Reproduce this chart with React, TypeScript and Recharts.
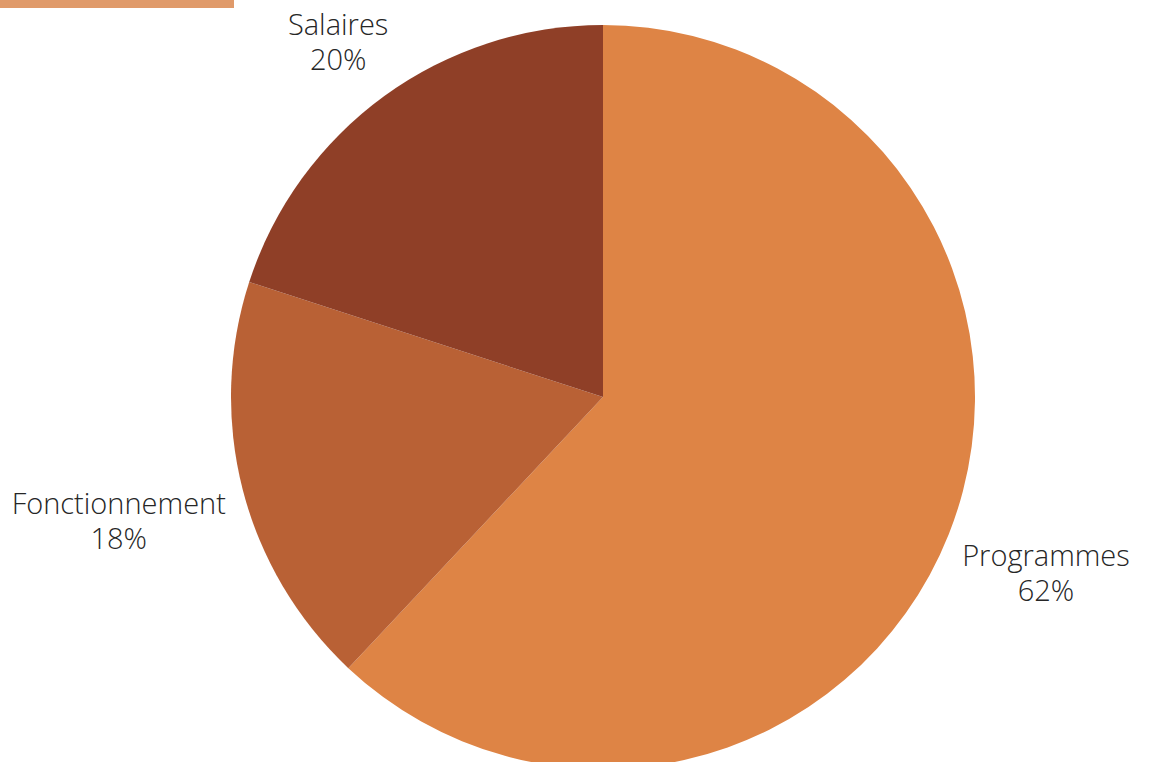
import React from 'react';
import { PieChart, Pie, Cell } from 'recharts';

// postes budgétaires (répartition en %)
const categories = ['Programmes', 'Fonctionnement', 'Salaires'];
const shares = [62, 18, 20];
const colors = ['#DE8445', '#B96135', '#8F3F27'];

const data = categories.map((name, i) => ({ name, value: shares[i] }));

const RAD = Math.PI / 180;

const renderLabel = (props: any) => {
    const { cx, cy, midAngle, outerRadius, name, percent } = props;
    const cos = Math.cos(-midAngle * RAD);
    const sin = Math.sin(-midAngle * RAD);
    const w = String(name).length * 16;
    const r = outerRadius + 18;
    const x = cx + r * cos + (cos * w) / 2 + (cos > 0 ? 6 : 2);
    const y = cy + r * sin + sin * 45 + (sin > 0 ? 16 : -3);
    return (
        <text
            x={x}
            y={y}
            textAnchor="middle"
            fill="#262626"
            style={{ fontFamily: '"Open Sans", sans-serif', fontWeight: 300, fontSize: 29 }}
        >
            <tspan x={x} y={y - 7.5}>{name}</tspan>
            <tspan x={x} y={y + 28}>{`${Math.round(percent * 100)}%`}</tspan>
        </text>
    );
};

const App: React.FC = () => {
    return (
        <div style={{ position: 'fixed', top: 0, left: 0, width: 1149, height: 762, background: '#fff', overflow: 'hidden' }}>
            <div style={{ position: 'absolute', top: 0, left: 0, width: 234, height: 8, background: '#E09A6A' }} />
            <PieChart width={1149} height={762} margin={{ top: 0, right: 0, bottom: 0, left: 0 }}>
                <Pie
                    data={data}
                    dataKey="value"
                    nameKey="name"
                    cx={603}
                    cy={397}
                    outerRadius={372}
                    startAngle={90}
                    endAngle={-270}
                    stroke="none"
                    labelLine={false}
                    label={renderLabel}
                    isAnimationActive={false}
                >
                    {data.map((entry, index) => (
                        <Cell key={`cell-${index}`} fill={colors[index]} />
                    ))}
                </Pie>
            </PieChart>
        </div>
    );
};

export default App;
